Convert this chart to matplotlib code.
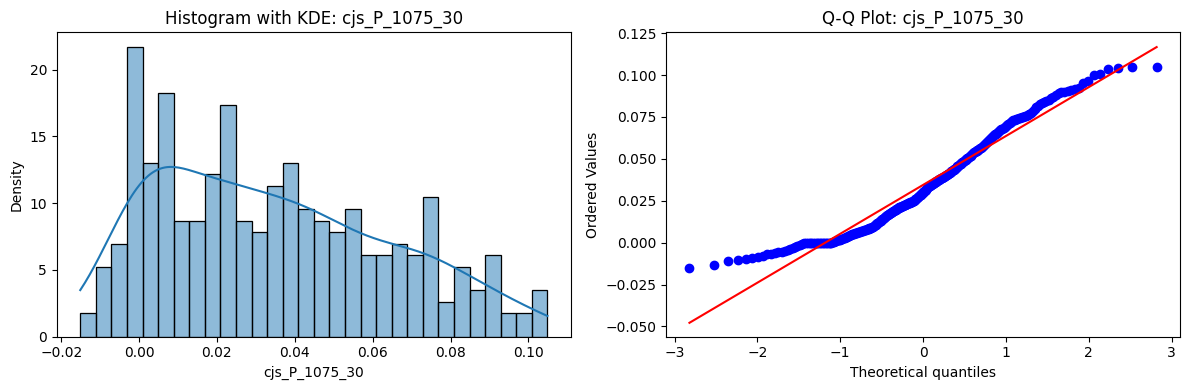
import numpy as np
import matplotlib
matplotlib.use("Agg")
import matplotlib.pyplot as plt
import seaborn as sns
from statistics import NormalDist

colName = "cjs_P_1075_30"

values = [
    -0.0151, -0.0136,
    -0.0110, -0.0103, -0.0097, -0.0090, -0.0084, -0.0078,
    -0.0070, -0.0066, -0.0062, -0.0058, -0.0054, -0.0049, -0.0043, -0.0036,
    -0.0030, -0.0025, -0.0019, -0.0014, -0.0009, -0.0004,
    0.0, 0.0, 0.0, 0.0, 0.0, 0.0, 0.0, 0.0, 0.0, 0.0, 0.0, 0.0, 0.0, 0.0, 0.0, 0.0, 0.0,
    0.0003, 0.0005,
    0.0010, 0.0012, 0.0014, 0.0016, 0.0018, 0.0020, 0.0023, 0.0026, 0.0029, 0.0032,
    0.0035, 0.0038, 0.0041, 0.0044, 0.0047,
    0.0050, 0.0052, 0.0054, 0.0056, 0.0058, 0.0060, 0.0062, 0.0064, 0.0066, 0.0068,
    0.0070, 0.0072, 0.0074, 0.0076, 0.0078, 0.0080, 0.0082, 0.0084, 0.0085, 0.0087, 0.0088,
    0.0091, 0.0095, 0.0099, 0.0103, 0.0107, 0.0111, 0.0115, 0.0119, 0.0123, 0.0127,
    0.0131, 0.0135, 0.0139, 0.0143, 0.0147, 0.0151, 0.0155, 0.0159, 0.0163, 0.0167,
    0.0170, 0.0173, 0.0176, 0.0179, 0.0182, 0.0185, 0.0188, 0.0191, 0.0194, 0.0197,
    0.0200, 0.0203, 0.0205, 0.0207,
    0.0210, 0.0212, 0.0214, 0.0216, 0.0218, 0.0220, 0.0222, 0.0224, 0.0226, 0.0228,
    0.0230, 0.0232, 0.0234, 0.0236, 0.0238, 0.0240, 0.0242, 0.0244, 0.0246, 0.0248,
    0.0251, 0.0255, 0.0259, 0.0263, 0.0267, 0.0271, 0.0275, 0.0279, 0.0283, 0.0287,
    0.0291, 0.0295, 0.0299, 0.0303, 0.0307, 0.0311, 0.0315, 0.0319, 0.0324,
    0.0330, 0.0333, 0.0336, 0.0339, 0.0342, 0.0345, 0.0348, 0.0351, 0.0354, 0.0357,
    0.0360, 0.0363, 0.0366,
    0.0370, 0.0373, 0.0375, 0.0378, 0.0380, 0.0383, 0.0385, 0.0388, 0.0390, 0.0393,
    0.0395, 0.0398, 0.0401, 0.0404, 0.0407,
    0.0411, 0.0414, 0.0418, 0.0421, 0.0425, 0.0428, 0.0432, 0.0435, 0.0439, 0.0442, 0.0446,
    0.0451, 0.0455, 0.0459, 0.0463, 0.0467, 0.0471, 0.0475, 0.0479, 0.0483, 0.0487,
    0.0491, 0.0495, 0.0499, 0.0503, 0.0507, 0.0511, 0.0515, 0.0519, 0.0524,
    0.0531, 0.0534, 0.0538, 0.0541, 0.0545, 0.0548, 0.0552, 0.0555, 0.0559, 0.0562, 0.0566,
    0.0572, 0.0577, 0.0582, 0.0588, 0.0594, 0.0600, 0.0606,
    0.0612, 0.0617, 0.0622, 0.0628, 0.0634, 0.0640, 0.0646,
    0.0651, 0.0656, 0.0661, 0.0666, 0.0671, 0.0676, 0.0681, 0.0686,
    0.0692, 0.0697, 0.0702, 0.0708, 0.0714, 0.0720, 0.0726,
    0.0731, 0.0734, 0.0737, 0.0740, 0.0743, 0.0746, 0.0749, 0.0752, 0.0755, 0.0758,
    0.0761, 0.0765,
    0.0775, 0.0788, 0.0800,
    0.0812, 0.0818, 0.0825, 0.0832, 0.0838, 0.0845,
    0.0852, 0.0862, 0.0872, 0.0882,
    0.0891, 0.0896, 0.0901, 0.0906, 0.0911, 0.0917, 0.0924,
    0.0955, 0.0965,
    0.0998, 0.1006,
    0.1038, 0.1045, 0.1046, 0.1049,
]


def qqData(data):
    # Filliben order statistic medians, like scipy.stats.probplot
    ordered = np.sort(np.asarray(data))
    n = len(ordered)
    med = np.empty(n)
    med[-1] = 0.5 ** (1.0 / n)
    med[0] = 1 - med[-1]
    i = np.arange(2, n)
    med[1:-1] = (i - 0.3175) / (n + 0.365)
    nd = NormalDist()
    osm = np.array([nd.inv_cdf(p) for p in med])
    slope, intercept = np.polyfit(osm, ordered, 1)
    return osm, ordered, slope, intercept


fig, axes = plt.subplots(1, 2, figsize=(12, 4))

sns.histplot(values, bins=30, kde=True, stat="density", edgecolor="black", ax=axes[0])
axes[0].set_title(f"Histogram with KDE: {colName}")
axes[0].set_xlabel(colName)
axes[0].set_ylabel("Density")

osm, osr, slope, intercept = qqData(values)
axes[1].plot(osm, osr, "bo")
axes[1].plot(osm, slope * osm + intercept, "r-")
axes[1].set_title(f"Q-Q Plot: {colName}")
axes[1].set_xlabel("Theoretical quantiles")
axes[1].set_ylabel("Ordered Values")
lo, hi = axes[1].get_ylim()
axes[1].set_ylim(lo, max(hi, 0.1255))

plt.tight_layout()
plt.savefig("out.png", dpi=100, bbox_inches="tight")
